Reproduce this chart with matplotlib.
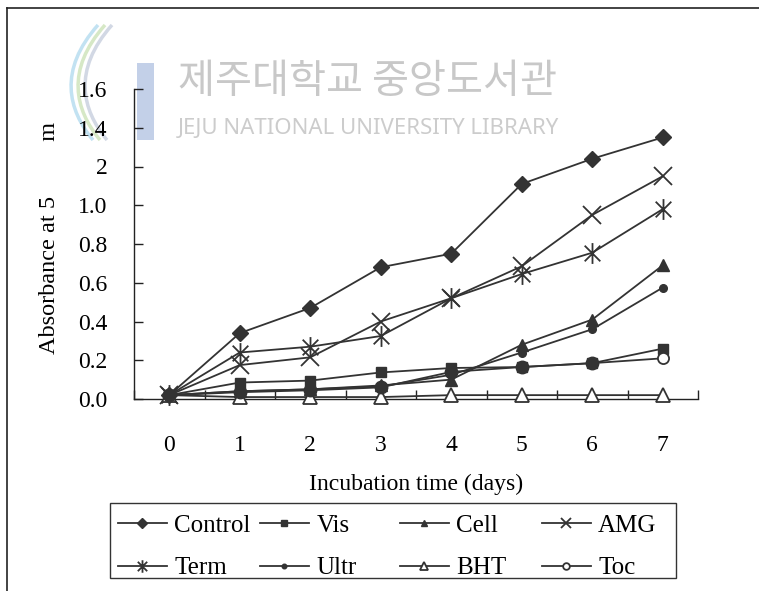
import matplotlib
matplotlib.use("Agg")
import matplotlib.pyplot as plt
from matplotlib.path import Path
from matplotlib.patches import Rectangle, PathPatch
from matplotlib.lines import Line2D

days = [0, 1, 2, 3, 4, 5, 6, 7]
day_labels = ["0", "1", "2", "3", "4", "5", "6", "7"]
y_ticks = [0.0, 0.2, 0.4, 0.6, 0.8, 1.0, 1.2, 1.4, 1.6]
y_tick_labels = ["0.0", "0.2", "0.4", "0.6", "0.8", "1.0", "2", "1.4", "1.6"]

control = [0.02, 0.34, 0.47, 0.68, 0.75, 1.11, 1.24, 1.35]
vis = [0.02, 0.085, 0.095, 0.137, 0.16, 0.165, 0.185, 0.26]
cell = [0.02, 0.04, 0.05, 0.07, 0.10, 0.28, 0.41, 0.69]
amg = [0.02, 0.175, 0.215, 0.40, 0.52, 0.685, 0.95, 1.15]
term = [0.02, 0.24, 0.27, 0.325, 0.52, 0.645, 0.755, 0.98]
ultr = [0.02, 0.04, 0.05, 0.065, 0.125, 0.24, 0.36, 0.575]
bht = [0.02, 0.01, 0.01, 0.01, 0.02, 0.02, 0.02, 0.02]
toc = [0.02, 0.035, 0.045, 0.06, 0.14, 0.165, 0.185, 0.21]

labels = ["Control", "Vis", "Cell", "AMG", "Term", "Ultr", "BHT", "Toc"]

plt.rcParams['font.family'] = ['Liberation Serif', 'DejaVu Serif']

ast = Path([(0, -1), (0, 1), (-0.75, -0.75), (0.75, 0.75), (-0.75, 0.75), (0.75, -0.75)],
           [Path.MOVETO, Path.LINETO, Path.MOVETO, Path.LINETO, Path.MOVETO, Path.LINETO])

C = '#333333'
styles = [
    dict(marker='D', ms=8, mfc=C, mec=C),
    dict(marker='s', ms=6.5, mfc=C, mec=C),
    dict(marker='^', ms=8, mfc=C, mec=C),
    dict(marker='x', ms=13, mfc=C, mec=C, mew=1.3),
    dict(marker=ast, ms=15, mfc=C, mec=C, mew=1.3),
    dict(marker='o', ms=5.5, mfc=C, mec=C),
    dict(marker='^', ms=10, mfc='white', mec=C, mew=1.3),
    dict(marker='o', ms=8, mfc='white', mec=C, mew=1.3, markevery=[7]),
]
series = [control, vis, cell, amg, term, ultr, bht, toc]

W, H = 759, 591
fig = plt.figure(figsize=(7.59, 5.91), dpi=100)
ax = fig.add_axes([134/W, 1-399/H, 564/W, 310/H])

def fx(px):
    return px / W

def fy(py):
    return 1 - py / H

# watermark / logo (behind everything)
fig.text(fx(178), fy(82), "제주대학교 중앙도서관", fontsize=29, color='#c8c8c8',
         family=['Noto Sans CJK KR'], va='center', ha='left', zorder=-1)
fig.text(fx(178), fy(128), "JEJU NATIONAL UNIVERSITY LIBRARY", fontsize=16, color='#cccccc',
         family=['Noto Sans'], va='center', ha='left', zorder=-1)
fig.patches.append(Rectangle((fx(137), fy(140)), 17 / W, 77 / H, transform=fig.transFigure,
                             facecolor='#c3d0e8', edgecolor='none', zorder=-1))
for (x0, col) in [(98, '#c2e2f2'), (105, '#d6e8c6'), (112, '#d2d8e4')]:
    p = Path([(fx(x0), fy(25)), (fx(x0 - 40), fy(70)), (fx(x0 - 30), fy(110)), (fx(x0 - 5), fy(140))],
             [Path.MOVETO, Path.CURVE4, Path.CURVE4, Path.CURVE4])
    fig.patches.append(PathPatch(p, transform=fig.transFigure, facecolor='none',
                                 edgecolor=col, lw=2.5, zorder=-1))

handles = []
for s, st, lab in zip(series, styles, labels):
    h, = ax.plot(days, s, color=C, lw=1.3, label=lab, clip_on=False, zorder=3, **st)
    handles.append(h)
# Toc points that appear filled where they overlap the other series
ax.plot(days, toc, ls='none', marker='o', ms=9, mfc=C, mec=C, markevery=[0, 1, 2, 3, 4, 5, 6],
        clip_on=False, zorder=3)

ax.patch.set_alpha(0)
ax.set_xlim(-0.5, 7.5)
ax.set_ylim(0, 1.6)
ax.spines['top'].set_visible(False)
ax.spines['right'].set_visible(False)
for sp in ['left', 'bottom']:
    ax.spines[sp].set_color('#222222')
    ax.spines[sp].set_linewidth(1.0)

ax.set_xticks(days)
ax.set_xticklabels(day_labels)
ax.set_xticks([d - 0.5 for d in days] + [7.5], minor=True)
ax.tick_params(axis='x', which='major', length=0, pad=26, labelsize=17)
ax.tick_params(axis='x', which='minor', direction='in', length=6.5, width=1, color='#222222')
ax.set_yticks(y_ticks)
ax.set_yticklabels(y_tick_labels)
ax.tick_params(axis='y', direction='in', length=6.5, width=1, color='#222222', pad=19, labelsize=17)

ax.set_xlabel("Incubation time (days)", fontsize=17, labelpad=13)
ax.set_ylabel("Absorbance at 5         m", fontsize=17.5)
ax.yaxis.set_label_coords(-0.131, 0.52)

# legend: four columns of equal width inside one frame
fig.patches.append(Rectangle((fx(110), fy(578)), (676 - 110) / W, 75 / H, transform=fig.transFigure,
                             facecolor='white', edgecolor='#333333', lw=1.0, zorder=1))
col_x = [118, 260, 400, 542]
for c in range(4):
    hs = [handles[c], handles[c + 4]]
    ls = [labels[c], labels[c + 4]]
    lg = fig.legend(hs, ls, loc='center left', bbox_to_anchor=(fx(col_x[c]), fy(547)),
                    fontsize=18, frameon=False, markerscale=0.6, handlelength=1.95,
                    handletextpad=0.3, borderpad=0, borderaxespad=0, labelspacing=0.8)
    lg.set_zorder(2)

# outer frame
fig.add_artist(Line2D([fx(7), 1], [fy(8), fy(8)], color='#222222', lw=1.2, transform=fig.transFigure))
fig.add_artist(Line2D([fx(7), fx(7)], [0, fy(8)], color='#222222', lw=1.2, transform=fig.transFigure))

fig.savefig("out.png", dpi=100)
